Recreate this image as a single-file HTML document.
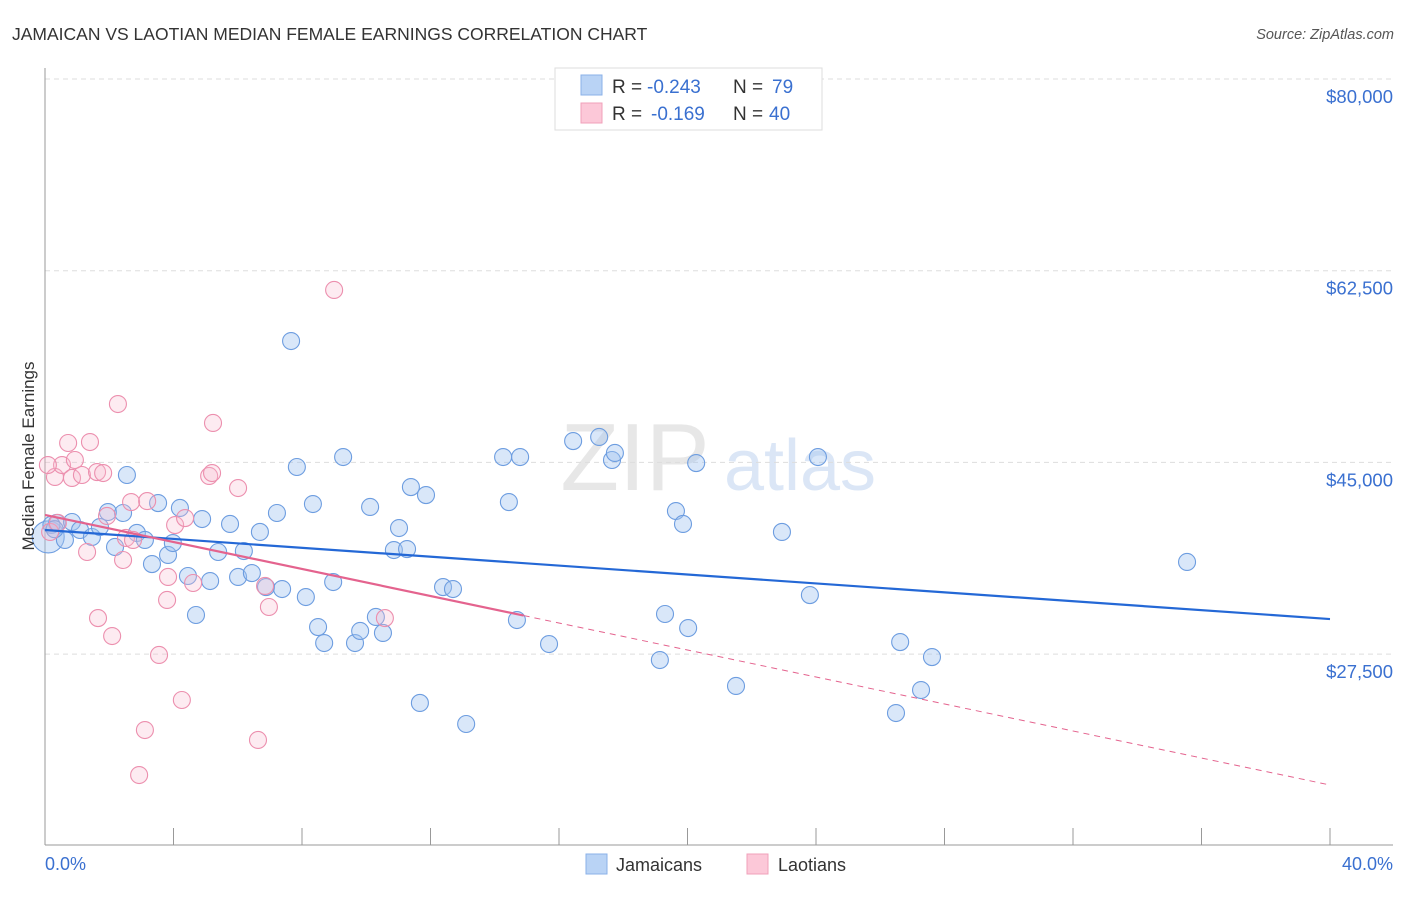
<!DOCTYPE html>
<html><head><meta charset="utf-8"><style>
body{margin:0;background:#fff;font-family:"Liberation Sans",sans-serif;}
svg text{font-family:"Liberation Sans",sans-serif;}
</style></head><body>
<svg id="c" width="1406" height="892" viewBox="0 0 1406 892">
<text x="12" y="40" font-size="17.5" fill="#333">JAMAICAN VS LAOTIAN MEDIAN FEMALE EARNINGS CORRELATION CHART</text>
<text x="1394" y="39" font-size="14.5" fill="#555" font-style="italic" text-anchor="end">Source: ZipAtlas.com</text>
<g opacity="0.5">
<text x="635" y="490" font-size="96" font-family="Liberation Serif" fill="#d0d0d0" text-anchor="middle">ZIP</text>
<text x="800" y="490" font-size="72" fill="#b8cfee" text-anchor="middle">atlas</text>
</g>
<g id="grid"></g>
<g id="axes"></g>
<g id="marks"></g>
<text x="34" y="456" font-size="17" fill="#333" text-anchor="middle" transform="rotate(-90 34 456)">Median Female Earnings</text>
<g>
<rect x="555" y="68" width="267" height="62" fill="#fff" stroke="#ddd"/>
<rect x="581" y="75" width="21" height="20" fill="#b9d3f5" stroke="#8ab0e8"/>
<rect x="581" y="103" width="21" height="20" fill="#fcc8d8" stroke="#f0a0ba"/>
<text x="612" y="93" font-size="19" fill="#333">R =</text>
<text x="647" y="93" font-size="19" fill="#3a70d0">-0.243</text>
<text x="733" y="93" font-size="19" fill="#333">N =</text>
<text x="772" y="93" font-size="19" fill="#3a70d0">79</text>
<text x="612" y="120" font-size="19" fill="#333">R =</text>
<text x="651" y="120" font-size="19" fill="#3a70d0">-0.169</text>
<text x="733" y="120" font-size="19" fill="#333">N =</text>
<text x="769" y="120" font-size="19" fill="#3a70d0">40</text>
</g>
<g>
<rect x="586" y="854" width="21" height="20" fill="#b9d3f5" stroke="#8ab0e8"/>
<text x="616" y="871" font-size="18" fill="#333">Jamaicans</text>
<rect x="747" y="854" width="21" height="20" fill="#fcc8d8" stroke="#f0a0ba"/>
<text x="778" y="871" font-size="18" fill="#333">Laotians</text>
</g>
</svg>
<script>
const yTicks=[27500,45000,62500,80000];
const yTickLabels=["$27,500","$45,000","$62,500","$80,000"];
const xTickLabels=["0.0%","40.0%"];
const blueX=[0.1,0.37,0.62,0.84,1.09,1.46,1.71,1.96,2.18,2.43,2.55,2.86,3.11,3.33,3.52,3.83,3.98,4.20,4.45,4.70,4.89,5.14,5.39,5.76,6.01,6.19,6.44,6.69,6.88,7.22,7.38,7.66,7.84,8.12,8.34,8.50,8.69,8.97,9.28,9.65,9.81,10.12,10.30,10.52,10.86,11.02,11.27,11.39,11.67,11.86,12.39,12.70,13.11,14.26,14.44,14.69,14.79,15.69,16.44,17.25,17.65,17.74,19.14,19.30,19.64,19.86,20.02,20.27,21.51,22.94,23.81,24.06,26.49,26.62,27.27,27.61,35.55,0.2,0.3];
const blueY=[38.2,39.47,37.92,39.56,38.83,38.19,39.10,40.47,37.28,40.38,43.85,38.56,37.92,35.72,41.29,36.55,37.64,40.84,34.63,31.07,39.83,34.17,36.82,39.38,34.54,36.91,34.90,38.65,33.62,40.38,33.44,56.08,44.58,32.71,41.20,29.97,28.51,34.08,45.49,28.51,29.61,40.93,30.89,29.43,37.00,39.01,37.09,42.75,23.04,42.02,33.62,33.44,21.12,45.49,41.38,30.61,45.49,28.42,46.95,47.32,45.22,45.86,26.96,31.16,40.56,39.38,29.88,44.94,24.59,38.65,32.89,45.49,22.12,28.60,24.22,27.23,35.91,39.3,38.9];
const pinkX=[0.16,0.31,0.40,0.53,0.72,0.84,0.93,1.15,1.40,1.62,1.81,1.93,1.31,1.65,2.09,2.27,2.43,2.52,2.74,2.68,3.18,3.55,3.83,3.80,4.05,4.26,4.36,4.61,5.11,5.20,5.23,6.01,3.11,2.93,6.63,6.85,6.97,9.00,10.58,0.09];
const pinkY=[38.65,43.67,39.47,44.76,46.77,43.58,45.22,43.85,46.86,44.12,44.03,40.11,36.82,30.79,29.15,50.33,36.09,38.10,37.92,41.38,41.47,27.42,34.54,32.44,39.28,23.31,39.92,33.99,43.76,44.03,48.60,42.66,20.57,16.46,19.66,33.72,31.80,60.74,30.79,44.76];
const blueTrend=[38.83,30.7];
const pinkTrend=[40.2,15.55];
const pinkSolidEnd=14.9;

const NS="http://www.w3.org/2000/svg";
const X0=45,X1=1330,YT=79,YPX=191.7;
const sx=v=>X0+(v/40)*(X1-X0);
const sy=k=>YT+(80-k)/17.5*YPX;
const syv=v=>sy(v/1000);
function mk(tag,parent,attrs){const e=document.createElementNS(NS,tag);for(const k in attrs)e.setAttribute(k,attrs[k]);parent.appendChild(e);return e;}
const grid=document.getElementById('grid'),axes=document.getElementById('axes'),marks=document.getElementById('marks');
yTicks.forEach((t,i)=>{
 const l=mk('line',grid,{x1:45,x2:1393,y1:syv(t),y2:syv(t),stroke:'#ddd','stroke-dasharray':'5,4'});
 
 
 const tx=mk('text',axes,{x:1393,y:syv(t)+24,'font-size':18.5,fill:'#3a70d0','text-anchor':'end'});
 tx.textContent=yTickLabels[i];
 
 
});
const ax=mk('line',axes,{x1:45,x2:45,y1:68,y2:845,stroke:'#999'});


const bx=mk('line',axes,{x1:45,x2:1393,y1:845,y2:845,stroke:'#999'});


for(let i=0;i<=10;i++){
 const t=mk('line',axes,{x1:sx(i*4),x2:sx(i*4),y1:828,y2:845,stroke:'#999'});
 
 
}
const xl0=mk('text',axes,{x:45,y:870,'font-size':18,fill:'#3a70d0'});
xl0.textContent=xTickLabels[0];


const xl1=mk('text',axes,{x:1393,y:870,'font-size':18,fill:'#3a70d0','text-anchor':'end'});
xl1.textContent=xTickLabels[1];



blueX.forEach((x,i)=>{
 const c=mk('circle',marks,{cx:sx(x),cy:sy(blueY[i]),r:i===0?16:8.5,fill:'rgba(160,196,240,0.4)',stroke:'#6d9de0','stroke-width':1.1});
 
 
});
pinkX.forEach((x,i)=>{
 const c=mk('circle',marks,{cx:sx(x),cy:sy(pinkY[i]),r:8.5,fill:'rgba(250,190,208,0.3)',stroke:'#ec8fae','stroke-width':1.1});
 
 
});
const bt=mk('line',marks,{x1:sx(0),y1:sy(blueTrend[0]),x2:sx(40),y2:sy(blueTrend[1]),stroke:'#2468d6','stroke-width':2.2});


const pMid=pinkTrend[0]+(pinkTrend[1]-pinkTrend[0])*pinkSolidEnd/40;
const pt=mk('line',marks,{x1:sx(0),y1:sy(pinkTrend[0]),x2:sx(pinkSolidEnd),y2:sy(pMid),stroke:'#e4638e','stroke-width':2.2});


const pd=mk('line',marks,{x1:sx(pinkSolidEnd),y1:sy(pMid),x2:sx(40),y2:sy(pinkTrend[1]),stroke:'#e4638e','stroke-width':1,'stroke-dasharray':'6,5'});


</script>
</body></html>
